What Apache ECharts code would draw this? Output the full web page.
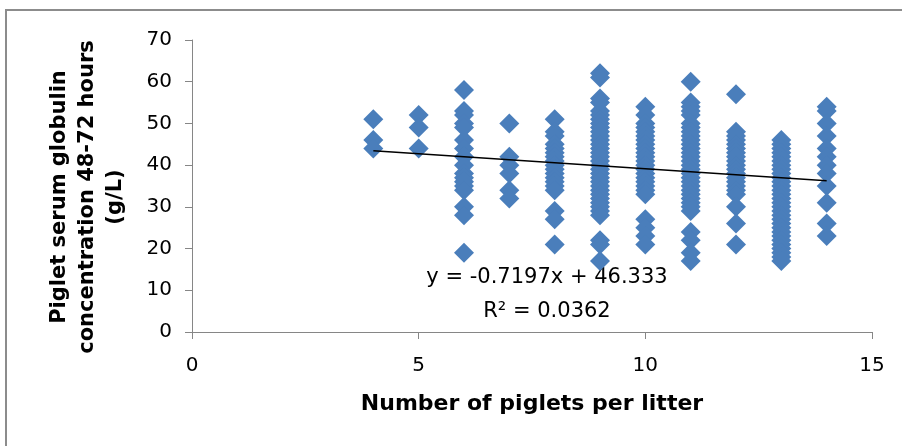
<!DOCTYPE html>
<html>
<head>
<meta charset="utf-8">
<script src="https://cdn.jsdelivr.net/npm/echarts@6/dist/echarts.min.js"></script>
<style>html,body{margin:0;padding:0;background:#fff}#c{width:902px;height:446px}</style>
</head>
<body>
<div id="c"></div>
<script>
// Litter sizes (x) and serum globulin values (y, g/L)
const litterSizes = [4, 5, 6, 7, 8, 9, 10, 11, 12, 13, 14];
const litter4 = [51, 46, 44];
const litter5 = [52, 49, 44];
const litter6 = [58, 53, 52, 50, 49, 46, 44, 42, 40, 38, 37, 36, 35, 34, 30, 28, 19];
const litter7 = [50, 42, 40, 38, 34, 32];
const litter8 = [51, 48, 47, 45, 44, 43, 42, 41, 40, 39, 38, 37, 36, 35, 34, 29, 27, 21];
const litter9 = [62, 61, 56, 55, 53, 52, 51, 50, 49, 48, 47, 46, 45, 44, 43, 42, 41, 40, 39, 38, 37, 36, 35, 34, 33, 32, 31, 30, 29, 28, 22, 21, 17];
const litter10 = [54, 52, 50, 49, 48, 47, 46, 45, 44, 43, 42, 41, 40, 39, 38, 37, 36, 35, 34, 33, 27, 25, 23, 21];
const litter11 = [60, 55, 54, 53, 52, 50, 49, 48, 47, 46, 45, 44, 43, 42, 41, 40, 39, 38, 37, 36, 35, 34, 33, 32, 31, 30, 29, 24, 22, 19, 17];
const litter12 = [57, 48, 47, 46, 45, 44, 43, 42, 41, 40, 39, 38, 37, 36, 35, 34, 33, 30, 26, 21];
const litter13 = [46, 45, 44, 43, 42, 41, 40, 39, 38, 37, 36, 35, 34, 33, 32, 31, 30, 29, 28, 27, 26, 25, 24, 23, 22, 21, 20, 19, 18, 17];
const litter14 = [54, 53, 50, 47, 44, 42, 40, 38, 35, 31, 26, 23];
const valuesByLitter = [litter4, litter5, litter6, litter7, litter8, litter9, litter10, litter11, litter12, litter13, litter14];

// Linear trend line (from the chart's equation)
const trendSlope = -0.7197;
const trendIntercept = 46.333;
const trendXRange = [4, 14];
const equationText = 'y = -0.7197x + 46.333';
const r2Text = 'R² = 0.0362';
const xTitle = 'Number of piglets per litter';
const yTitle = 'Piglet serum globulin\nconcentration 48-72 hours\n(g/L)';

const xTicks = {min: 0, max: 15, interval: 5};
const yTicks = {min: 0, max: 70, interval: 10};

const points = [];
litterSizes.forEach((x, i) => valuesByLitter[i].forEach(v => points.push([x, v])));
const trend = trendXRange.map(x => [x, trendSlope * x + trendIntercept]);

const chart = echarts.init(document.getElementById('c'), null, {renderer: 'canvas'});
const fontFam = 'DejaVu Sans';
const axisColor = '#868686';
chart.setOption({
  animation: false,
  backgroundColor: '#fff',
  grid: {left: 192, right: 30, top: 40, bottom: 114},
  xAxis: {
    type: 'value', min: xTicks.min, max: xTicks.max, interval: xTicks.interval,
    splitLine: {show: false},
    axisLine: {show: true, lineStyle: {color: axisColor, width: 1}},
    axisTick: {show: true, length: 7, lineStyle: {color: axisColor}},
    axisLabel: {color: '#000', fontSize: 20, fontFamily: fontFam, margin: 24},
    name: xTitle, nameLocation: 'middle', nameGap: 61,
    nameTextStyle: {color: '#000', fontSize: 22, fontWeight: 'bold', fontFamily: fontFam}
  },
  yAxis: {
    type: 'value', min: yTicks.min, max: yTicks.max, interval: yTicks.interval,
    splitLine: {show: false},
    axisLine: {show: true, onZero: false, lineStyle: {color: axisColor, width: 1}},
    axisTick: {show: true, length: 7, lineStyle: {color: axisColor}},
    axisLabel: {color: '#000', fontSize: 20, fontFamily: fontFam, margin: 20}
  },
  series: [
    {
      type: 'scatter', data: points, symbol: 'diamond', symbolSize: [20, 20],
      itemStyle: {color: '#4A7EBB', opacity: 1}, z: 2
    },
    {
      type: 'line', data: trend, symbol: 'none', z: 3,
      lineStyle: {color: '#000', width: 1.5}
    }
  ],
  graphic: [
    {type: 'rect', shape: {x: 6, y: 10, width: 920, height: 460}, style: {fill: 'none', stroke: '#8c8c8c', lineWidth: 2}, silent: true, z: -1},
    {type: 'text', x: 88, y: 197, rotation: Math.PI / 2,
      style: {text: yTitle, fill: '#000', font: 'bold 21px "DejaVu Sans"', lineHeight: 28, textAlign: 'center', textVerticalAlign: 'middle', align: 'center', verticalAlign: 'middle'}},
    {type: 'text', x: 547, y: 278, style: {text: equationText, fill: '#000', font: '21px "DejaVu Sans"', textAlign: 'center', textVerticalAlign: 'middle', align: 'center', verticalAlign: 'middle'}},
    {type: 'text', x: 547, y: 312, style: {text: r2Text, fill: '#000', font: '21px "DejaVu Sans"', textAlign: 'center', textVerticalAlign: 'middle', align: 'center', verticalAlign: 'middle'}}
  ]
});
</script>
</body>
</html>
